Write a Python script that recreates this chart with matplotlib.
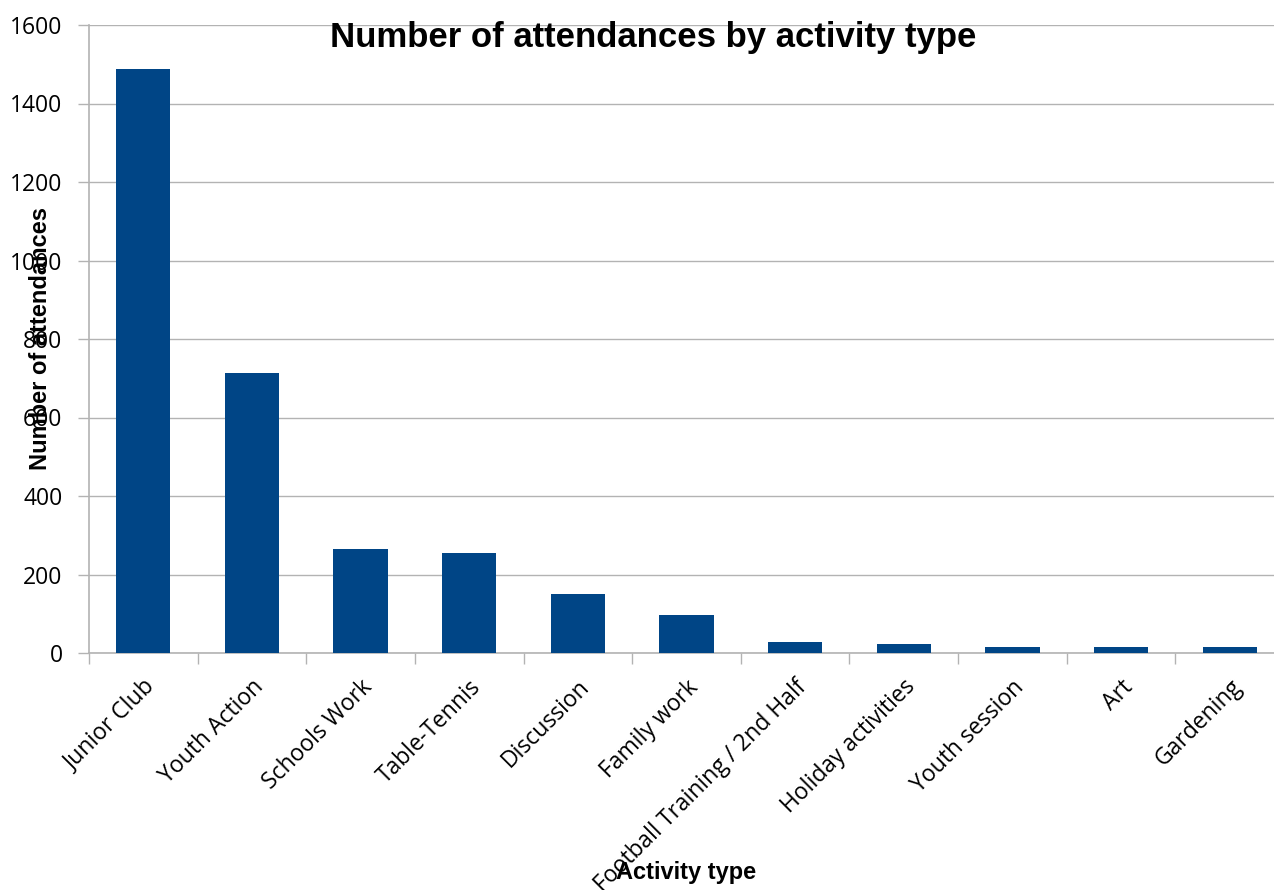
import matplotlib
matplotlib.use("Agg")
import matplotlib.pyplot as plt

categories = ["Junior Club", "Youth Action", "Schools Work", "Table-Tennis", "Discussion",
              "Family work", "Football Training / 2nd Half", "Holiday activities",
              "Youth session", "Art", "Gardening"]
values = [1487, 713, 265, 255, 151, 97, 28, 23, 15, 15, 15]
yticks = [0, 200, 400, 600, 800, 1000, 1200, 1400, 1600]

W, H = 1274, 890
fig = plt.figure(figsize=(W / 100, H / 100), dpi=100)
ax = fig.add_axes([89 / W, (H - 653) / H, 1195 / W, 628 / H])

x = list(range(len(categories)))
ax.bar(x, values, width=0.5, color="#004586", zorder=3)

ax.set_xlim(-0.5, len(categories) - 0.5)
ax.set_ylim(0, 1600)
ax.set_yticks(yticks)
ax.set_yticklabels([str(v) for v in yticks], fontsize=16.5, family="Open Sans")
ax.yaxis.grid(True, color="#b3b3b3", linewidth=1, zorder=0)

ax.set_xticks([i - 0.5 for i in range(len(categories) + 1)])
ax.set_xticklabels([])
ax.set_xticks(x, minor=True)
ax.set_xticklabels(categories, minor=True, rotation=45, ha="right",
                   rotation_mode="anchor", fontsize=16.5, family="Open Sans")
ax.tick_params(axis="x", which="minor", length=0, pad=16)
ax.tick_params(axis="x", which="major", length=8, color="#b3b3b3", width=1)
ax.tick_params(axis="y", length=8, color="#b3b3b3", width=1, pad=11)

for s in ["top", "right"]:
    ax.spines[s].set_visible(False)
for s in ["left", "bottom"]:
    ax.spines[s].set_color("#b3b3b3")
    ax.spines[s].set_linewidth(1.2)

fig.text(653 / W, 1 - 37 / H, "Number of attendances by activity type", ha="center", va="center",
         fontsize=25, fontweight="bold", family="Liberation Sans")
fig.text(41 / W, 1 - 338 / H, "Number of attendances", ha="center", va="center", rotation=90,
         fontsize=17, fontweight="bold", family="Liberation Sans")
fig.text(686 / W, 1 - 873 / H, "Activity type", ha="center", va="center",
         fontsize=17, fontweight="bold", family="Liberation Sans")

fig.savefig("out.png", dpi=100)
